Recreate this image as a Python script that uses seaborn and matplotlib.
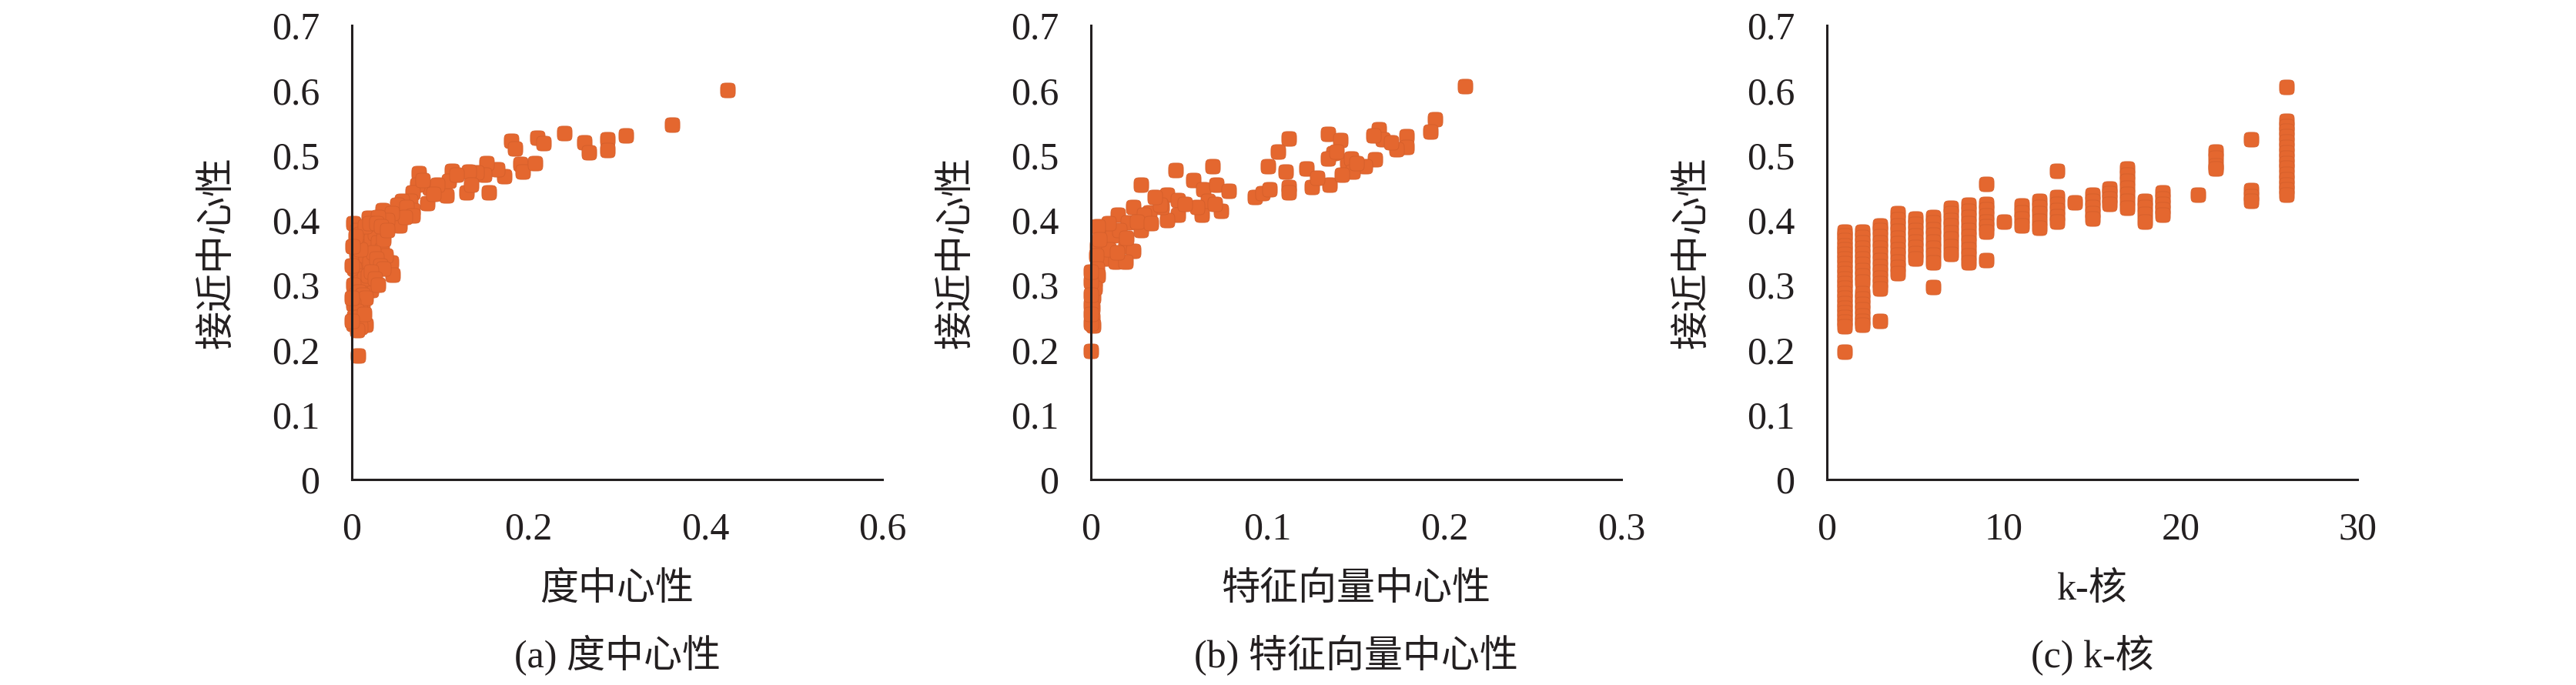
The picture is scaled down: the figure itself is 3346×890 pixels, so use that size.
import matplotlib
matplotlib.use("Agg")
import matplotlib.pyplot as plt
from matplotlib.path import Path
import numpy as np
import seaborn as sns
import pandas as pd

# ---------------- data ----------------
# (a) degree centrality vs closeness centrality
degree_x = [0.425, 0.362, 0.310, 0.289, 0.289, 0.263, 0.268, 0.240, 0.210, 0.217,
            0.180, 0.185, 0.191, 0.193, 0.207, 0.172, 0.165, 0.152, 0.155, 0.150,
            0.141, 0.132, 0.130, 0.135, 0.113, 0.107, 0.110, 0.118, 0.088, 0.097,
            0.085, 0.092, 0.076, 0.074, 0.069, 0.066, 0.080, 0.057, 0.051, 0.069,
            0.062, 0.035, 0.054, 0.069, 0.060, 0.045, 0.040, 0.019, 0.026, 0.035,
            0.030, 0.044, 0.046, 0.022, 0.012, 0.010, 0.016, 0.007,
            0.002, 0.006, 0.010, 0.014, 0.018, 0.022, 0.026, 0.030, 0.034, 0.038,
            0.036, 0.002, 0.005, 0.008, 0.012, 0.016, 0.020, 0.024, 0.028, 0.032,
            0.036, 0.003, 0.006, 0.010, 0.014, 0.018, 0.022, 0.026, 0.030, 0.002,
            0.004, 0.008, 0.012, 0.016, 0.002, 0.005, 0.003, 0.008, 0.002, 0.010,
            0.006, 0.014, 0.015, 0.020, 0.010, 0.004, 0.028, 0.033, 0.040, 0.000,
            0.000, 0.000, 0.001]
degree_y = [0.600, 0.547, 0.530, 0.524, 0.508, 0.520, 0.504, 0.534, 0.527, 0.518,
            0.522, 0.510, 0.486, 0.474, 0.488, 0.468, 0.478, 0.488, 0.442, 0.470,
            0.473, 0.475, 0.442, 0.455, 0.476, 0.438, 0.460, 0.470, 0.450, 0.454,
            0.426, 0.440, 0.472, 0.454, 0.442, 0.430, 0.462, 0.430, 0.423, 0.415,
            0.420, 0.415, 0.391, 0.407, 0.405, 0.410, 0.400, 0.403, 0.391, 0.383,
            0.405, 0.335, 0.316, 0.292, 0.272, 0.260, 0.238, 0.191,
            0.395, 0.385, 0.378, 0.370, 0.360, 0.370, 0.380, 0.365, 0.355, 0.345,
            0.370, 0.360, 0.350, 0.340, 0.330, 0.345, 0.335, 0.350, 0.340, 0.330,
            0.325, 0.325, 0.315, 0.305, 0.310, 0.315, 0.320, 0.310, 0.300, 0.300,
            0.285, 0.290, 0.285, 0.280, 0.270, 0.260, 0.250, 0.250, 0.240, 0.235,
            0.230, 0.255, 0.390, 0.395, 0.355, 0.375, 0.395, 0.390, 0.385, 0.330,
            0.280, 0.245, 0.360]

# (b) eigenvector centrality vs closeness centrality
eigen_x = [0.2114, 0.1947, 0.192, 0.1786, 0.1786, 0.173, 0.163, 0.165, 0.170, 0.160,
           0.1605, 0.155, 0.134, 0.141, 0.137, 0.145, 0.112, 0.106,
           0.0285, 0.048, 0.0686, 0.100, 0.0927, 0.097, 0.101, 0.110, 0.112, 0.112,
           0.122, 0.125, 0.135, 0.134, 0.139, 0.147, 0.148, 0.128, 0.142, 0.150,
           0.058, 0.0635, 0.071, 0.078, 0.0628, 0.0737, 0.066, 0.060, 0.070,
           0.043, 0.049, 0.049, 0.043, 0.040, 0.053,
           0.024, 0.033, 0.039, 0.036,
           0.0153, 0.021, 0.0285, 0.030, 0.026, 0.034,
           0.0066, 0.0124, 0.0197, 0.024, 0.016, 0.010, 0.004, 0.020,
           0.0036, 0.008, 0.0139, 0.0197, 0.010, 0.005, 0.015, 0.003,
           0.0036, 0.002, 0.0015, 0.0007, 0.0015, 0.004, 0.002, 0.001,
           0.000, 0.000, 0.000, 0.000, 0.000, 0.000, 0.000]
eigen_y = [0.606, 0.555, 0.536, 0.529, 0.512, 0.509, 0.540, 0.525, 0.520, 0.530,
           0.493, 0.483, 0.533, 0.523, 0.503, 0.489, 0.526, 0.506,
           0.455, 0.477, 0.483, 0.483, 0.435, 0.441, 0.447, 0.475, 0.451, 0.443,
           0.479, 0.451, 0.455, 0.495, 0.505, 0.495, 0.475, 0.465, 0.470, 0.488,
           0.461, 0.447, 0.455, 0.445, 0.408, 0.414, 0.430, 0.420, 0.425,
           0.439, 0.431, 0.408, 0.400, 0.420, 0.425,
           0.420, 0.412, 0.424, 0.435,
           0.408, 0.396, 0.384, 0.408, 0.398, 0.395,
           0.384, 0.376, 0.360, 0.352, 0.385, 0.395, 0.390, 0.372,
           0.360, 0.340, 0.336, 0.336, 0.355, 0.370, 0.350, 0.345,
           0.325, 0.305, 0.281, 0.249, 0.237, 0.315, 0.295, 0.265,
           0.305, 0.269, 0.241, 0.198, 0.285, 0.255, 0.320]

# (c) k-core vs closeness centrality
kcore_levels = [1, 2, 3, 4, 5, 6, 7, 8, 9, 10, 11, 12, 13, 14, 15, 16, 17, 18, 19,
                21, 22, 24, 26]
kcore_closeness = [
    [0.382, 0.376, 0.369, 0.361, 0.355, 0.348, 0.340, 0.333, 0.325, 0.318, 0.310,
     0.302, 0.295, 0.287, 0.280, 0.272, 0.265, 0.257, 0.250, 0.243, 0.236, 0.197],
    [0.382, 0.374, 0.366, 0.357, 0.349, 0.340, 0.332, 0.323, 0.314, 0.305, 0.287,
     0.279, 0.270, 0.262, 0.253, 0.245, 0.238],
    [0.392, 0.384, 0.375, 0.366, 0.357, 0.348, 0.338, 0.329, 0.320, 0.311, 0.302,
     0.294, 0.244],
    [0.410, 0.401, 0.392, 0.383, 0.373, 0.364, 0.355, 0.346, 0.336, 0.327, 0.318],
    [0.402, 0.394, 0.385, 0.376, 0.367, 0.358, 0.349, 0.341],
    [0.405, 0.396, 0.386, 0.377, 0.367, 0.357, 0.346, 0.335, 0.297],
    [0.419, 0.410, 0.400, 0.391, 0.381, 0.371, 0.360, 0.348],
    [0.423, 0.414, 0.404, 0.395, 0.385, 0.375, 0.365, 0.355, 0.345, 0.335],
    [0.456, 0.425, 0.416, 0.407, 0.398, 0.390, 0.382, 0.338],
    [0.398],
    [0.422, 0.412, 0.402, 0.392],
    [0.429, 0.420, 0.410, 0.399, 0.388],
    [0.476, 0.435, 0.425, 0.415, 0.406, 0.398],
    [0.427],
    [0.439, 0.430, 0.420, 0.411, 0.402],
    [0.449, 0.441, 0.433, 0.425],
    [0.479, 0.470, 0.460, 0.450, 0.440, 0.430, 0.419],
    [0.429, 0.420, 0.409, 0.398],
    [0.442, 0.433, 0.425, 0.416, 0.408],
    [0.439],
    [0.506, 0.496, 0.484, 0.479],
    [0.524, 0.446, 0.437, 0.429],
    [0.605, 0.553, 0.545, 0.537, 0.529, 0.521, 0.513, 0.504, 0.496, 0.488, 0.480,
     0.471, 0.463, 0.455, 0.447, 0.439],
]

y_ticks = [0, 0.1, 0.2, 0.3, 0.4, 0.5, 0.6, 0.7]
y_tick_labels = ["0", "0.1", "0.2", "0.3", "0.4", "0.5", "0.6", "0.7"]
x_ticks_a = [0, 0.2, 0.4, 0.6]
x_tick_labels_a = ["0", "0.2", "0.4", "0.6"]
x_ticks_b = [0, 0.1, 0.2, 0.3]
x_tick_labels_b = ["0", "0.1", "0.2", "0.3"]
x_ticks_c = [0, 10, 20, 30]
x_tick_labels_c = ["0", "10", "20", "30"]

y_label = "接近中心性"
x_labels = ["度中心性", "特征向量中心性", "k-核"]
captions = ["(a) 度中心性", "(b) 特征向量中心性", "(c) k-核"]

# ---------------- style ----------------
sns.set_style("white")
FAM = ["Liberation Serif", "Noto Sans CJK SC", "DejaVu Sans"]
plt.rcParams["font.family"] = FAM
plt.rcParams["axes.unicode_minus"] = False

FS = 36
COLOR = "#E4672F"
AXC = "#231f20"

# rounded-square ("squircle") marker shape
_t = np.linspace(0, 2 * np.pi, 65)
_c, _s = np.cos(_t), np.sin(_t)
_mx = np.sign(_c) * np.abs(_c) ** 0.5
_my = np.sign(_s) * np.abs(_s) ** 0.5
ROUND_SQ = Path(np.column_stack([_mx, _my]), closed=True)

fig = plt.figure(figsize=(33.46, 8.90), dpi=100)
W, H = 3346.0, 890.0
axes_left_px = [457, 1417, 2373]
ax_w = 689 / W
ax_b = (H - 623) / H
ax_h = 590 / H

df_a = pd.DataFrame({"x": degree_x, "y": degree_y})
df_b = pd.DataFrame({"x": eigen_x, "y": eigen_y})
kx, ky = [], []
for k, vals in zip(kcore_levels, kcore_closeness):
    kx.extend([k] * len(vals))
    ky.extend(vals)
df_c = pd.DataFrame({"x": kx, "y": ky})

dfs = [df_a, df_b, df_c]
xlims = [(0, 0.6), (0, 0.3), (0, 30)]
xticks = [x_ticks_a, x_ticks_b, x_ticks_c]
xticklabels = [x_tick_labels_a, x_tick_labels_b, x_tick_labels_c]

for i in range(3):
    ax = fig.add_axes([axes_left_px[i] / W, ax_b, ax_w, ax_h])
    sns.scatterplot(data=dfs[i], x="x", y="y", ax=ax, marker=ROUND_SQ, s=190,
                    color=COLOR, edgecolor="#D55F2B", linewidth=0.6,
                    clip_on=False, legend=False, zorder=1)
    ax.set_xlim(*xlims[i])
    ax.set_ylim(0, 0.7)
    ax.set_xticks(xticks[i])
    ax.set_xticklabels(xticklabels[i])
    ax.set_yticks(y_ticks)
    ax.set_yticklabels(y_tick_labels)
    ax.set_xlabel("")
    ax.set_ylabel("")
    for s in ["top", "right"]:
        ax.spines[s].set_visible(False)
    for s in ["left", "bottom"]:
        ax.spines[s].set_linewidth(2.2)
        ax.spines[s].set_color(AXC)
        ax.spines[s].set_zorder(3)
    ax.tick_params(axis="both", direction="in", length=11.5, width=2.2,
                   color=AXC, labelsize=FS, labelcolor=AXC)
    ax.tick_params(axis="x", pad=30)
    ax.tick_params(axis="y", pad=30)
    for lab in ax.get_xticklabels() + ax.get_yticklabels():
        lab.set_family(FAM)
    ax.text(0.5, -0.244, x_labels[i], transform=ax.transAxes, ha="center",
            va="center", fontsize=FS, color=AXC, family=FAM)
    ax.text(0.5, -0.388, captions[i], transform=ax.transAxes, ha="center",
            va="center", fontsize=FS, color=AXC, family=FAM)
    ax.text(-0.2525, 0.5, y_label, transform=ax.transAxes, ha="center",
            va="center", rotation=90, fontsize=FS, color=AXC, family=FAM)
    ax.set_facecolor("white")

fig.savefig("out.png", dpi=100, facecolor="white")
